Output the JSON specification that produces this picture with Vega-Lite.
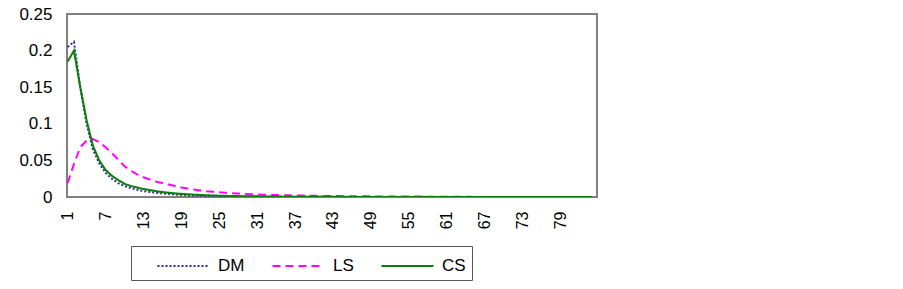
{
  "$schema": "https://vega.github.io/schema/vega-lite/v6.json",
  "width": 530,
  "height": 183,
  "autosize": "none",
  "padding": {"left": 67, "top": 14, "right": 306, "bottom": 92},
  "background": "white",
  "config": {
    "font": "Liberation Sans",
    "view": {"stroke": "#808080", "strokeWidth": 2},
    "axis": {"grid": false, "ticks": false, "domain": false, "labelFont": "Liberation Sans", "labelColor": "black"}
  },
  "data": {
    "values": [
      {"x":1,"DM":0.205,"LS":0.019,"CS":0.185},
      {"x":2,"DM":0.212,"LS":0.045,"CS":0.200},
      {"x":3,"DM":0.150,"LS":0.068,"CS":0.150},
      {"x":4,"DM":0.100,"LS":0.077,"CS":0.105},
      {"x":5,"DM":0.065,"LS":0.079,"CS":0.070},
      {"x":6,"DM":0.046,"LS":0.075,"CS":0.050},
      {"x":7,"DM":0.033,"LS":0.068,"CS":0.037},
      {"x":8,"DM":0.025,"LS":0.060,"CS":0.029},
      {"x":9,"DM":0.019,"LS":0.051,"CS":0.023},
      {"x":10,"DM":0.015,"LS":0.042,"CS":0.018},
      {"x":11,"DM":0.012,"LS":0.036,"CS":0.015},
      {"x":12,"DM":0.010,"LS":0.031,"CS":0.013},
      {"x":13,"DM":0.008,"LS":0.027,"CS":0.011},
      {"x":14,"DM":0.0068,"LS":0.024,"CS":0.0095},
      {"x":15,"DM":0.0057,"LS":0.021,"CS":0.008},
      {"x":16,"DM":0.0048,"LS":0.019,"CS":0.0068},
      {"x":17,"DM":0.0040,"LS":0.017,"CS":0.0058},
      {"x":18,"DM":0.0034,"LS":0.015,"CS":0.0050},
      {"x":19,"DM":0.0029,"LS":0.013,"CS":0.0043},
      {"x":20,"DM":0.0025,"LS":0.0115,"CS":0.0037},
      {"x":21,"DM":0.0021,"LS":0.0102,"CS":0.0032},
      {"x":22,"DM":0.0018,"LS":0.0090,"CS":0.0028},
      {"x":23,"DM":0.0016,"LS":0.0080,"CS":0.0024},
      {"x":24,"DM":0.0014,"LS":0.0072,"CS":0.0021},
      {"x":25,"DM":0.0012,"LS":0.0065,"CS":0.0018},
      {"x":26,"DM":0.0010,"LS":0.0058,"CS":0.0016},
      {"x":27,"DM":0.0009,"LS":0.0052,"CS":0.0014},
      {"x":28,"DM":0.0008,"LS":0.0047,"CS":0.0012},
      {"x":29,"DM":0.0007,"LS":0.0042,"CS":0.0011},
      {"x":30,"DM":0.0006,"LS":0.0038,"CS":0.0010},
      {"x":31,"DM":0.0005,"LS":0.0035,"CS":0.0009},
      {"x":32,"DM":0.0005,"LS":0.0032,"CS":0.0008},
      {"x":33,"DM":0.0004,"LS":0.0029,"CS":0.0007},
      {"x":34,"DM":0.0004,"LS":0.0027,"CS":0.0006},
      {"x":35,"DM":0.0003,"LS":0.0025,"CS":0.0005},
      {"x":36,"DM":0.0003,"LS":0.0023,"CS":0.0005},
      {"x":37,"DM":0.0003,"LS":0.0021,"CS":0.0004},
      {"x":38,"DM":0.0002,"LS":0.0019,"CS":0.0004},
      {"x":39,"DM":0.0002,"LS":0.0018,"CS":0.0003},
      {"x":40,"DM":0.0002,"LS":0.0016,"CS":0.0003},
      {"x":41,"DM":0.0002,"LS":0.0015,"CS":0.0003},
      {"x":42,"DM":0.0001,"LS":0.0014,"CS":0.0002},
      {"x":43,"DM":0.0001,"LS":0.0013,"CS":0.0002},
      {"x":44,"DM":0.0001,"LS":0.0012,"CS":0.0002},
      {"x":45,"DM":0.0001,"LS":0.0011,"CS":0.0002},
      {"x":46,"DM":0.0001,"LS":0.0010,"CS":0.0001},
      {"x":47,"DM":0.0001,"LS":0.00095,"CS":0.0001},
      {"x":48,"DM":0.0001,"LS":0.0009,"CS":0.0001},
      {"x":49,"DM":0.0001,"LS":0.00085,"CS":0.0001},
      {"x":50,"DM":0.0001,"LS":0.0008,"CS":0.0001},
      {"x":51,"DM":0.0,"LS":0.00075,"CS":0.0001},
      {"x":52,"DM":0.0,"LS":0.0007,"CS":0.0001},
      {"x":53,"DM":0.0,"LS":0.00066,"CS":0.0},
      {"x":54,"DM":0.0,"LS":0.00062,"CS":0.0},
      {"x":55,"DM":0.0,"LS":0.00058,"CS":0.0},
      {"x":56,"DM":0.0,"LS":0.00055,"CS":0.0},
      {"x":57,"DM":0.0,"LS":0.00052,"CS":0.0},
      {"x":58,"DM":0.0,"LS":0.00049,"CS":0.0},
      {"x":59,"DM":0.0,"LS":0.00046,"CS":0.0},
      {"x":60,"DM":0.0,"LS":0.00043,"CS":0.0},
      {"x":61,"DM":0.0,"LS":0.0004,"CS":0.0},
      {"x":62,"DM":0.0,"LS":0.00038,"CS":0.0},
      {"x":63,"DM":0.0,"LS":0.00036,"CS":0.0},
      {"x":64,"DM":0.0,"LS":0.00034,"CS":0.0},
      {"x":65,"DM":0.0,"LS":0.00032,"CS":0.0},
      {"x":66,"DM":0.0,"LS":null,"CS":0.0},
      {"x":67,"DM":0.0,"LS":null,"CS":0.0},
      {"x":68,"DM":0.0,"LS":null,"CS":0.0},
      {"x":69,"DM":0.0,"LS":null,"CS":0.0},
      {"x":70,"DM":0.0,"LS":null,"CS":0.0},
      {"x":71,"DM":0.0,"LS":null,"CS":0.0},
      {"x":72,"DM":0.0,"LS":null,"CS":0.0},
      {"x":73,"DM":0.0,"LS":null,"CS":0.0},
      {"x":74,"DM":0.0,"LS":null,"CS":0.0},
      {"x":75,"DM":0.0,"LS":null,"CS":0.0},
      {"x":76,"DM":0.0,"LS":null,"CS":0.0},
      {"x":77,"DM":0.0,"LS":null,"CS":0.0},
      {"x":78,"DM":0.0,"LS":null,"CS":0.0},
      {"x":79,"DM":0.0,"LS":null,"CS":0.0},
      {"x":80,"DM":0.0,"LS":null,"CS":0.0},
      {"x":81,"DM":0.0,"LS":null,"CS":0.0},
      {"x":82,"DM":0.0,"LS":null,"CS":0.0},
      {"x":83,"DM":0.0,"LS":null,"CS":0.0},
      {"x":84,"DM":0.0,"LS":null,"CS":0.0}
    ]
  },
  "transform": [
    {"fold": ["DM", "LS", "CS"], "as": ["series", "value"]},
    {"filter": "datum.value != null"}
  ],
  "mark": {"type": "line", "strokeWidth": 2, "clip": true},
  "encoding": {
    "x": {
      "field": "x",
      "type": "quantitative",
      "scale": {"domain": [0.9, 84.8], "nice": false, "zero": false},
      "axis": {
        "title": null,
        "values": [1, 7, 13, 19, 25, 31, 37, 43, 49, 55, 61, 67, 73, 79],
        "labelAngle": -90,
        "labelAlign": "right",
        "labelBaseline": "middle",
        "labelFontSize": 16,
        "labelPadding": 14,
        "labelFlush": false,
        "labelOverlap": false
      }
    },
    "y": {
      "field": "value",
      "type": "quantitative",
      "scale": {"domain": [0, 0.25], "nice": false},
      "axis": {
        "title": null,
        "values": [0, 0.05, 0.1, 0.15, 0.2, 0.25],
        "format": "~g",
        "labelFontSize": 17,
        "labelPadding": 15,
        "labelFlush": false,
        "labelOverlap": false
      }
    },
    "color": {
      "field": "series",
      "type": "nominal",
      "sort": ["DM", "LS", "CS"],
      "scale": {"domain": ["DM", "LS", "CS"], "range": ["#2b2b9e", "#ff00ff", "#0a7d0a"]},
      "legend": {
        "title": null,
        "orient": "none",
        "legendX": 64,
        "legendY": 232,
        "direction": "horizontal",
        "symbolType": "M0.5,0H4.5",
        "symbolSize": 676,
        "symbolStrokeWidth": 2,
        "labelFontSize": 17,
        "labelColor": "black",
        "labelOffset": 53,
        "columnPadding": 7,
        "padding": 6,
        "strokeColor": "#555555",
        "fillColor": "white"
      }
    },
    "strokeDash": {
      "field": "series",
      "type": "nominal",
      "sort": ["DM", "LS", "CS"],
      "scale": {"domain": ["DM", "LS", "CS"], "range": [[2, 2], [8, 5], [1, 0]]},
      "legend": null
    }
  }
}
